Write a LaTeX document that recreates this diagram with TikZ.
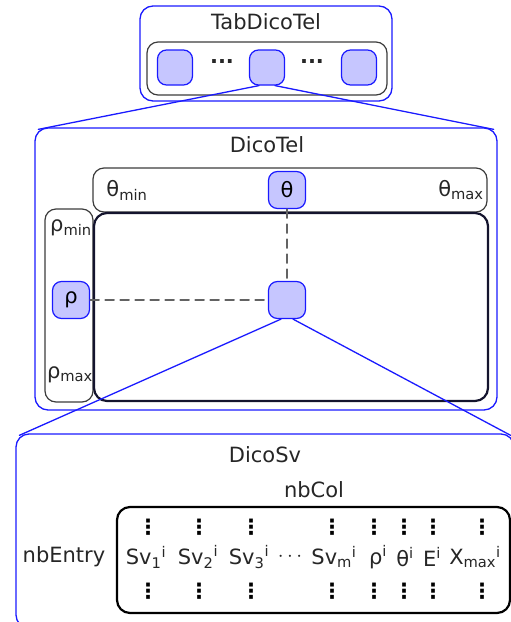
\documentclass[tikz,border=0pt]{standalone}
\usepackage{fontspec}
\setmainfont{DejaVu Sans}
\usetikzlibrary{positioning}
\definecolor{DicoBlue}{HTML}{1A1AFF}
\definecolor{CellFill}{HTML}{C6C6FF}
\definecolor{BarGray}{HTML}{3C3C3C}
\definecolor{GridDark}{HTML}{14142E}

\tikzset{
  dicobox/.style={draw=DicoBlue,line width=1.3pt,rounded corners=13pt,inner sep=0pt},
  barbox/.style={draw=BarGray,line width=1.2pt,rounded corners=11pt,inner sep=0pt},
  gridbox/.style={draw=GridDark,line width=2.2pt,rounded corners=13pt,inner sep=0pt},
  cell/.style={draw=DicoBlue,fill=CellFill,line width=1.2pt,rounded corners=9pt,
    inner sep=0pt,minimum width=37pt,minimum height=37pt},
  zoomline/.style={draw=DicoBlue,line width=1.3pt},
  guide/.style={draw=BarGray!80,dash pattern=on 9pt off 6pt,line width=1.3pt},
  lbl/.style={inner sep=0pt,text=black!85},
  colbar/.style={inner sep=0pt,text=black,font=\fontsize{21}{21}\selectfont\bfseries}
}

\begin{document}
\begin{tikzpicture}[x=1pt,y=-1pt,font=\fontsize{21}{25}\selectfont,line cap=round,line join=round]
  \useasboundingbox (0,0) rectangle (511,622);

  % TabDicoTel
  \node[dicobox,minimum width=252pt,minimum height=95pt] (tab) at (266,53.5) {};
  \node[lbl] (tabname) at (266,22) {TabDicoTel};
  \node[barbox,minimum width=240pt,minimum height=53pt] (tabrow) at (267,68.5) {};
  \node[cell,minimum width=35pt,minimum height=35pt] (t1) at (175,67.5) {};
  \node[cell,minimum width=35pt,minimum height=35pt] (t2) at (267,67.5) {};
  \node[cell,minimum width=35pt,minimum height=35pt] (t3) at (359,67.5) {};
  \node[lbl] (tdots1) at (222,62) {\textbf{...}};
  \node[lbl] (tdots2) at (312,62) {\textbf{...}};

  % DicoTel
  \node[dicobox,minimum width=462pt,minimum height=282pt] (tel) at (266,269) {};
  \node[lbl] (telname) at (267,145) {DicoTel};
  \draw[zoomline] ([xshift=-8pt]t2.south) -- ([shift={(4pt,-2pt)}]tel.north west);
  \draw[zoomline] ([xshift=8pt]t2.south) -- ([shift={(-4pt,-2pt)}]tel.north east);

  \node[barbox,minimum width=394pt,minimum height=44pt] (thetabar) at (290,190) {};
  \node[barbox,minimum width=48pt,minimum height=193pt] (rhobar) at (69,305.5) {};
  \node[gridbox,minimum width=394pt,minimum height=188pt] (grid) at (291,307) {};
  \node[lbl] (thetamin) at (127,190) {θ\textsubscript{min}};
  \node[lbl] (thetamax) at (461,190) {θ\textsubscript{max}};
  \node[lbl] (rhomin) at (71,228) {ρ\textsubscript{min}};
  \node[lbl] (rhomax) at (70,375) {ρ\textsubscript{max}};
  \node[cell] (theta) at (287,190) {θ};
  \node[cell] (rho) at (71,300) {ρ};
  \node[cell] (entry) at (287,300) {};
  \draw[guide] (theta.south) -- (entry.north);
  \draw[guide] (rho.east) -- (entry.west);

  % DicoSv
  \node[dicobox,minimum width=498pt,minimum height=194pt] (sv) at (265,531) {};
  \draw[zoomline] ([xshift=-6pt]entry.south) -- ([shift={(4pt,-2pt)}]sv.north west);
  \draw[zoomline] ([xshift=6pt]entry.south) -- ([shift={(-4pt,-2pt)}]sv.north east);
  \node[lbl] (svname) at (265,455) {DicoSv};
  \node[lbl] (nbcol) at (314,490) {nbCol};
  \node[gridbox,draw=black,minimum width=393pt,minimum height=106pt] (table) at (313.5,560) {};
  \node[lbl] (nbentry) at (64,557) {nbEntry};

  \node[lbl] (sv1) at (146,557) {Sv\textsubscript{1}\textsuperscript{i}};
  \node[lbl] (sv2) at (198,557) {Sv\textsubscript{2}\textsuperscript{i}};
  \node[lbl] (sv3) at (249,557) {Sv\textsubscript{3}\textsuperscript{i}};
  \node[lbl] (svdots) at (290,557) {$\cdots$};
  \node[lbl] (svm) at (334,557) {Sv\textsubscript{m}\textsuperscript{i}};
  \node[lbl] (rhoi) at (378,557) {ρ\textsuperscript{i}};
  \node[lbl] (thetai) at (405,557) {θ\textsuperscript{i}};
  \node[lbl] (ei) at (432,557) {E\textsuperscript{i}};
  \node[lbl] (xmax) at (475,557) {X\textsubscript{max}\textsuperscript{i}};
  \foreach \cx in {148,199,251,332,374,404,433,482}{
    \node[colbar] at (\cx,527) {⋮};
    \node[colbar] at (\cx,591) {⋮};
  }
\end{tikzpicture}
\end{document}
